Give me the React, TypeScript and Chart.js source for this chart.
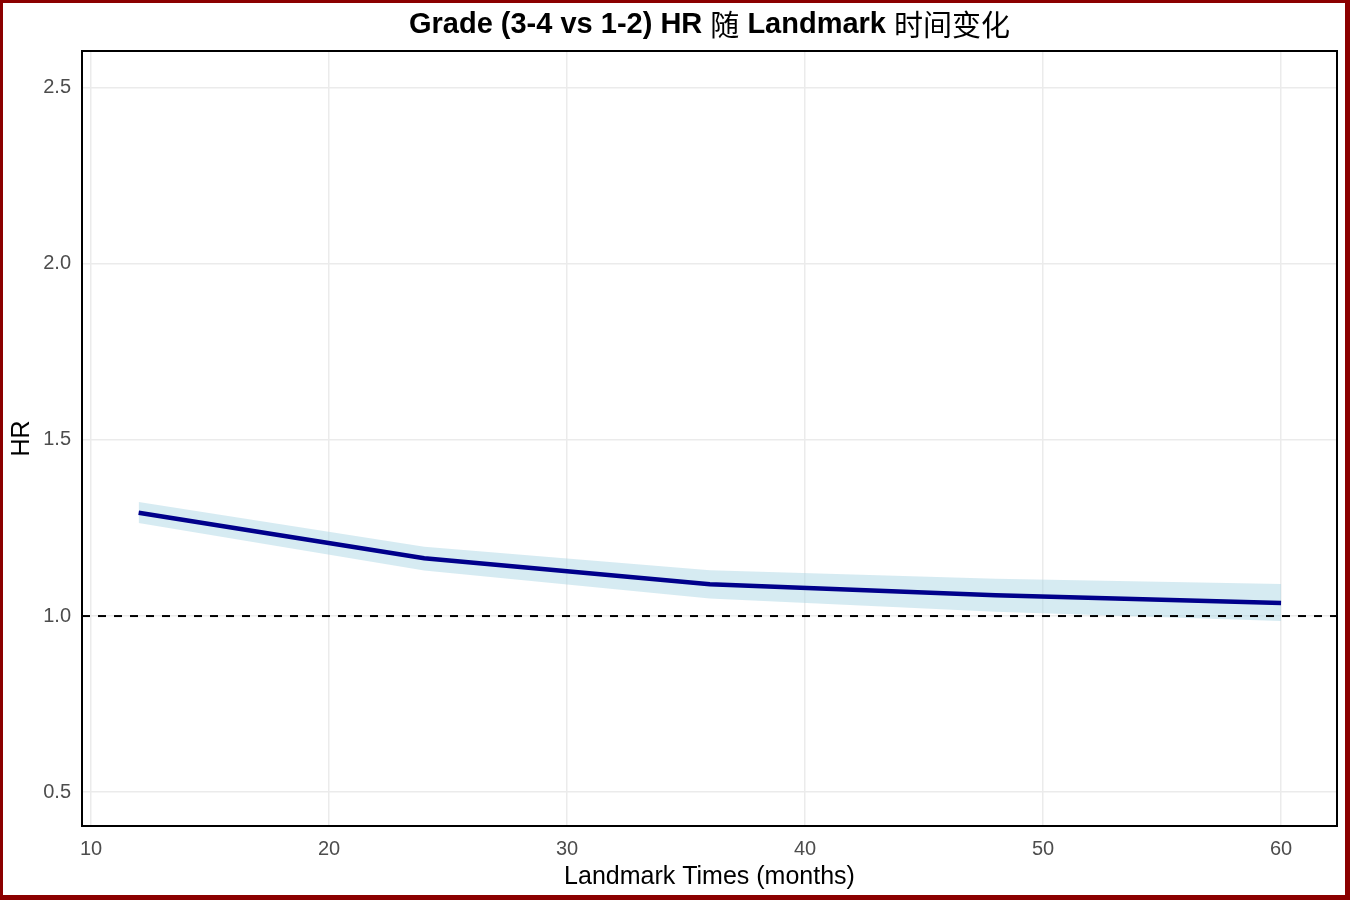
import { useEffect, useRef } from 'react';
import { Chart, registerables } from 'chart.js';
import type { ChartConfiguration, Plugin } from 'chart.js';

Chart.register(...registerables);

const landmarkMonths = [12, 24, 36, 48, 60];
const hrValues = [1.293, 1.164, 1.09, 1.059, 1.037];
const hrUpper = [1.324, 1.197, 1.13, 1.106, 1.091];
const hrLower = [1.264, 1.129, 1.05, 1.012, 0.986];
const xTicks = [10, 20, 30, 40, 50, 60];
const yTicks = [0.5, 1.0, 1.5, 2.0, 2.5];
const refHR = 1;

const titleText = 'Grade (3-4 vs 1-2) HR 随 Landmark 时间变化';
const xTitle = 'Landmark Times (months)';
const yTitle = 'HR';

const FONT = "'Liberation Sans', Arial, 'Noto Sans CJK SC', sans-serif";
const CJK_FONT = "'Noto Sans CJK SC', sans-serif";

const toPoints = (ys: number[]) => landmarkMonths.map((x, i) => ({ x, y: ys[i] }));

// split the title so the Chinese glyphs get a plain weight, like the R fallback font
const titleRuns = (text: string) => text.match(/[\u4e00-\u9fff]+|[^\u4e00-\u9fff]+/g) || [text];
const isCjk = (s: string) => /[\u4e00-\u9fff]/.test(s);

// reference line, plot frame and the text around it
const decorations: Plugin = {
  id: 'decorations',
  afterDatasetsDraw(chart) {
    const { ctx, chartArea } = chart;
    const y = chart.scales.y.getPixelForValue(refHR);
    ctx.save();
    ctx.beginPath();
    ctx.rect(chartArea.left, chartArea.top, chartArea.right - chartArea.left, chartArea.bottom - chartArea.top);
    ctx.clip();
    ctx.strokeStyle = '#000000';
    ctx.lineWidth = 2;
    ctx.setLineDash([8, 8]);
    ctx.beginPath();
    ctx.moveTo(chartArea.left, y);
    ctx.lineTo(chartArea.right, y);
    ctx.stroke();
    ctx.restore();
  },
  afterDraw(chart) {
    const { ctx, chartArea } = chart;
    ctx.save();
    ctx.strokeStyle = '#000000';
    ctx.lineWidth = 2;
    ctx.strokeRect(chartArea.left, chartArea.top, chartArea.right - chartArea.left, chartArea.bottom - chartArea.top);

    const cx = (chartArea.left + chartArea.right) / 2;
    const cy = (chartArea.top + chartArea.bottom) / 2;
    ctx.fillStyle = '#000000';
    ctx.textBaseline = 'middle';

    const runs = titleRuns(titleText);
    const fontFor = (s: string) => (isCjk(s) ? `29px ${CJK_FONT}` : `bold 29px ${FONT}`);
    let total = 0;
    runs.forEach((r) => {
      ctx.font = fontFor(r);
      total += ctx.measureText(r).width;
    });
    let tx = cx - total / 2;
    ctx.textAlign = 'left';
    runs.forEach((r) => {
      ctx.font = fontFor(r);
      ctx.fillText(r, tx, 25);
      tx += ctx.measureText(r).width;
    });

    ctx.textAlign = 'center';
    ctx.font = `25px ${FONT}`;
    ctx.fillText(xTitle, cx, 877);

    ctx.translate(22, cy);
    ctx.rotate(-Math.PI / 2);
    ctx.fillText(yTitle, 0, 0);
    ctx.restore();
  },
};

export default function App() {
  const canvasRef = useRef<HTMLCanvasElement>(null);
  const chartRef = useRef<Chart | null>(null);

  useEffect(() => {
    const canvas = canvasRef.current;
    if (!canvas) return;
    if (chartRef.current) {
      chartRef.current.destroy();
      chartRef.current = null;
    }

    const tickFont = { family: FONT, size: 20 };

    // dataset 0 is drawn last (on top), so the line goes first
    const config: ChartConfiguration<'line'> = {
      type: 'line',
      data: {
        datasets: [
          {
            label: 'HR',
            data: toPoints(hrValues),
            borderColor: '#00008B',
            borderWidth: 4.5,
            pointRadius: 0,
            fill: false,
            tension: 0,
          },
          {
            label: 'upper',
            data: toPoints(hrUpper),
            borderWidth: 0,
            borderColor: 'rgba(0,0,0,0)',
            backgroundColor: 'rgba(173,216,230,0.5)',
            pointRadius: 0,
            fill: '+1',
          },
          {
            label: 'lower',
            data: toPoints(hrLower),
            borderWidth: 0,
            borderColor: 'rgba(0,0,0,0)',
            pointRadius: 0,
            fill: false,
          },
        ],
      },
      options: {
        responsive: false,
        animation: false,
        layout: { padding: { top: 51, right: 13, bottom: 0, left: 0 } },
        plugins: {
          legend: { display: false },
          title: { display: false },
          tooltip: { enabled: false },
        },
        scales: {
          x: {
            type: 'linear',
            min: 9.62,
            max: 62.35,
            afterBuildTicks: (s) => {
              s.ticks = xTicks.map((value) => ({ value }));
            },
            afterFit: (s) => {
              s.height = 74;
            },
            grid: { color: '#EBEBEB', lineWidth: 1.5, drawTicks: false },
            border: { display: false },
            ticks: {
              font: tickFont,
              color: '#4D4D4D',
              padding: 11,
              maxRotation: 0,
              callback: (v) => String(v),
            },
          },
          y: {
            type: 'linear',
            min: 0.404,
            max: 2.604,
            afterBuildTicks: (s) => {
              s.ticks = yTicks.map((value) => ({ value }));
            },
            afterFit: (s) => {
              s.width = 82;
            },
            grid: { color: '#EBEBEB', lineWidth: 1.5, drawTicks: false },
            border: { display: false },
            ticks: {
              font: tickFont,
              color: '#4D4D4D',
              padding: 11,
              callback: (v) => Number(v).toFixed(1),
            },
          },
        },
      },
      plugins: [decorations],
    };

    chartRef.current = new Chart(canvas, config);

    return () => {
      if (chartRef.current) {
        chartRef.current.destroy();
        chartRef.current = null;
      }
    };
  }, []);

  return (
    <div style={{ position: 'fixed', left: 0, top: 0, width: 1350, height: 900, background: '#ffffff' }}>
      <canvas ref={canvasRef} width={1350} height={900} style={{ display: 'block' }} />
      <div
        style={{
          position: 'absolute',
          inset: 0,
          boxSizing: 'border-box',
          borderStyle: 'solid',
          borderColor: '#8B0000',
          borderWidth: '3px 5px 5px 3px',
          pointerEvents: 'none',
        }}
      />
    </div>
  );
}
